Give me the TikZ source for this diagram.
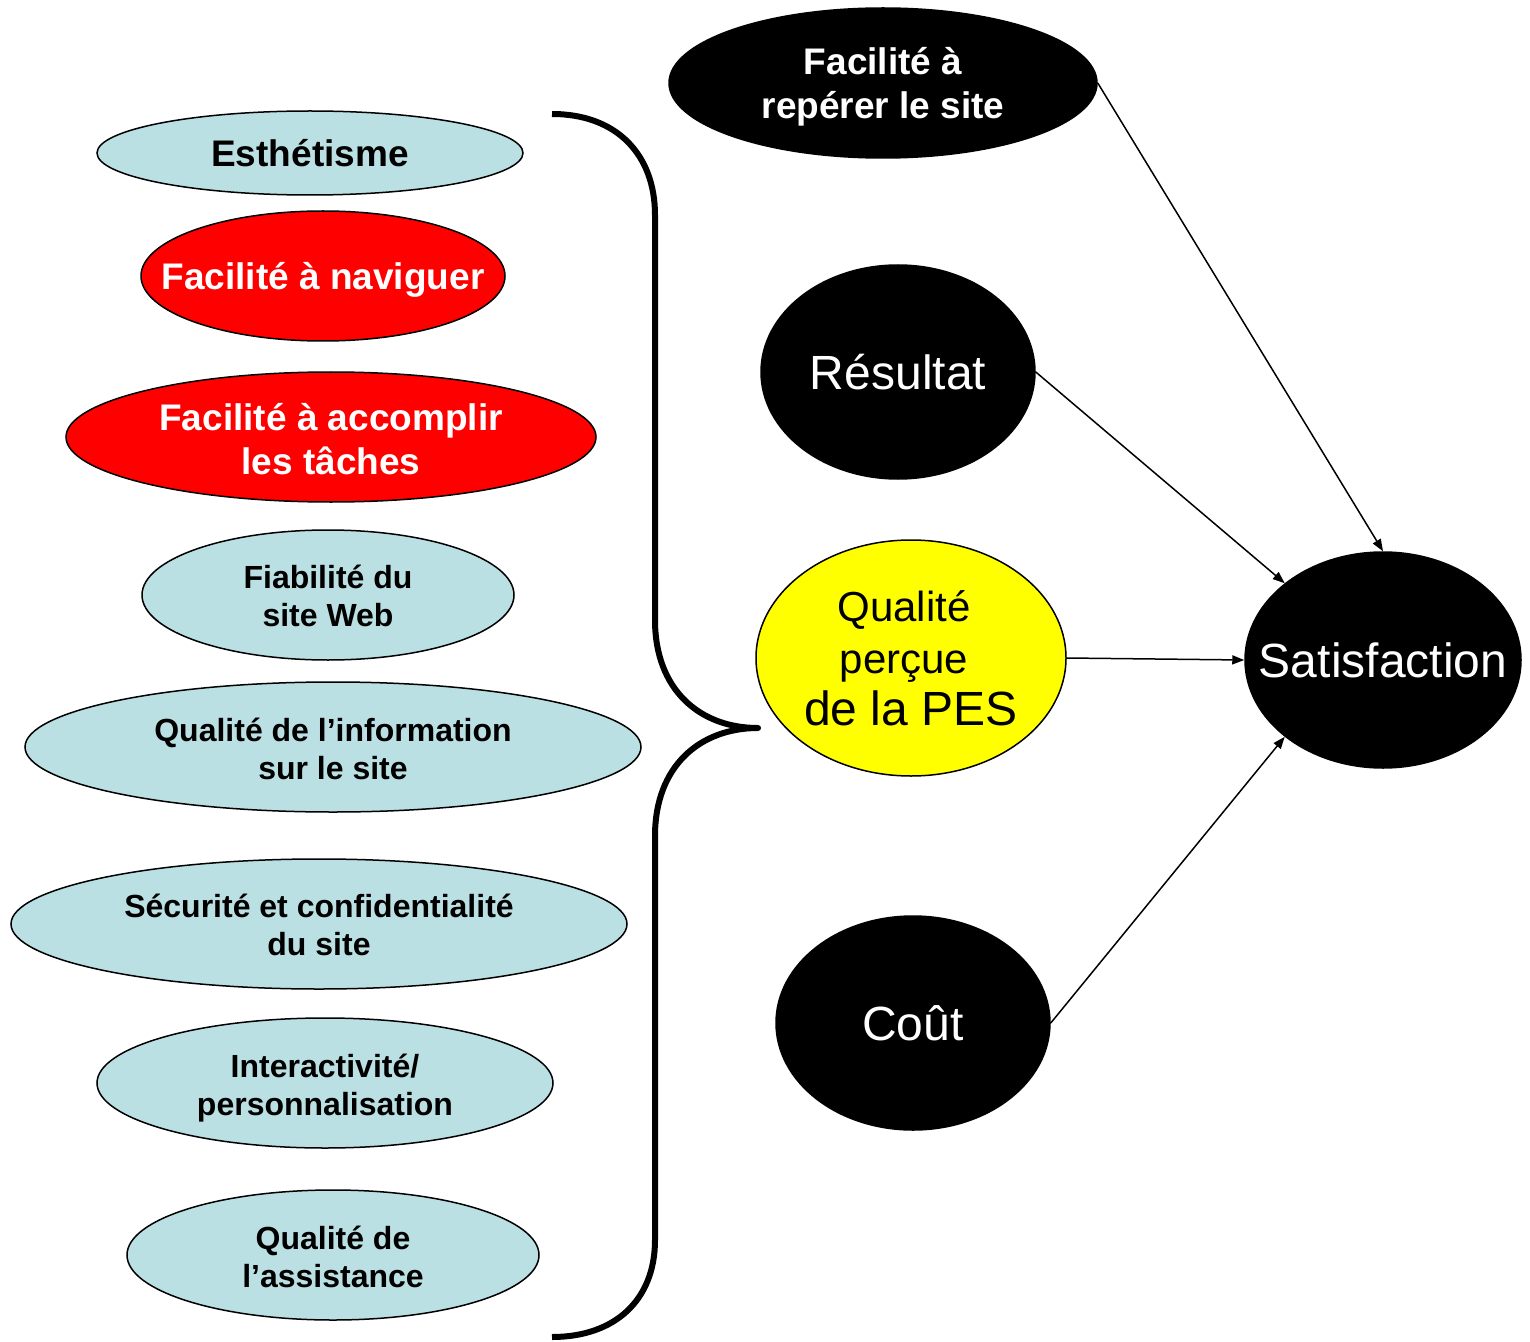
\documentclass[tikz,border=0pt]{standalone}
\usepackage{fontspec}
\setmainfont{Liberation Sans}
\usetikzlibrary{shapes.geometric,arrows.meta}
\definecolor{paleteal}{RGB}{187,224,227}
\definecolor{sunyellow}{RGB}{255,255,0}
\begin{document}
\begin{tikzpicture}[x=0.5pt,y=-0.5pt,
  oval/.style={ellipse, draw=black, line width=0.75pt, inner sep=0pt},
  soft/.style={oval, fill=paleteal},
  hot/.style={oval, fill=red},
  dark/.style={oval, fill=black},
  sunny/.style={oval, fill=sunyellow},
  small/.style={font=\bfseries\fontsize{16}{19}\selectfont, align=center, text=black},
  bigb/.style={font=\bfseries\fontsize{18.5}{22}\selectfont, align=center, text=#1},
  big/.style={font=\fontsize{24}{28}\selectfont, align=center, text=#1},
  link/.style={line width=0.75pt, -{Triangle[length=6pt,width=4.5pt]}},
  brace/.style={line width=3pt, line join=round}
]
\useasboundingbox (0,0) rectangle (1530,1342);

% left column: quality dimensions
\node[soft, minimum width=213pt, minimum height=42pt,
  label={[bigb=black]center:Esthétisme}] (esth) at (310,153) {};
\node[hot, minimum width=182pt, minimum height=65pt,
  label={[bigb=white, yshift=-2pt]center:Facilité à naviguer}] (navig) at (323,276) {};
\node[hot, minimum width=265pt, minimum height=65pt,
  label={[bigb=white, yshift=-1pt]center:{Facilité à accomplir\\les tâches}}] (taches) at (331,437) {};
\node[soft, minimum width=186pt, minimum height=65pt,
  label={[small, yshift=-0.5pt]center:{Fiabilité du\\site Web}}] (fiab) at (328,595) {};
\node[soft, minimum width=308pt, minimum height=65pt,
  label={[small, yshift=-1pt]center:{Qualité de l’information\\sur le site}}] (info) at (333,747) {};
\node[soft, minimum width=308pt, minimum height=65pt,
  label={[small, yshift=-0.5pt]center:{Sécurité et confidentialité\\du site}}] (secu) at (319,924) {};
\node[soft, minimum width=228pt, minimum height=65pt,
  label={[small, yshift=-2.5pt]center:{Interactivité/\\personnalisation}}] (inter) at (325,1083) {};
\node[soft, minimum width=206pt, minimum height=65pt,
  label={[small, yshift=-1pt]center:{Qualité de\\l’assistance}}] (assist) at (333,1255) {};

% brace gathering the dimensions
\draw[brace] (552,114) .. controls (617,114) and (655,155) .. (655,215)
  -- (655,620) .. controls (655,690) and (700,728) .. (758,728)
  .. controls (700,728) and (655,766) .. (655,836)
  -- (655,1240) .. controls (655,1300) and (615,1337) .. (552,1337);

% right part: antecedents of satisfaction
\node[dark, minimum width=214pt, minimum height=75pt,
  label={[bigb=white, yshift=-2pt]center:{Facilité à\\repérer le site}}] (reperer) at (883,83) {};
\node[dark, minimum width=137pt, minimum height=107pt,
  label={[big=white]center:Résultat}] (resultat) at (898,372) {};
\node[sunny, minimum width=155pt, minimum height=118pt,
  label={[align=center, text=black, font=\fontsize{21}{26}\selectfont]center:{\mbox{Qualité\hspace{7pt}}\\\mbox{perçue\hspace{7pt}}\\{\fontsize{24}{26}\selectfont de la PES}}}] (pes) at (911,658) {};
\node[dark, minimum width=137pt, minimum height=107pt,
  label={[big=white]center:Coût}] (cout) at (913,1023) {};
\node[dark, minimum width=138pt, minimum height=108pt,
  label={[big=white]center:Satisfaction}] (sat) at (1383,660) {};

% links
\draw[link] (reperer.east) -- (sat.north);
\draw[link] (resultat.east) -- (sat.142);
\draw[link] (pes.east) -- (sat.west);
\draw[link] (cout.east) -- (sat.218);
\end{tikzpicture}
\end{document}
